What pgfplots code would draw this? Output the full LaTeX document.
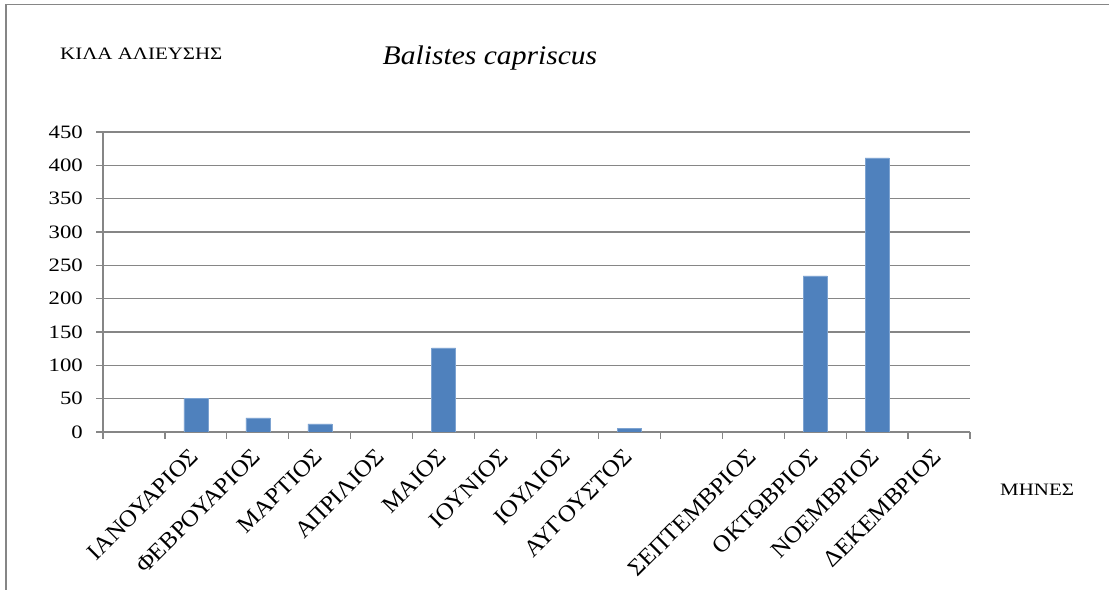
\documentclass[border=0pt]{standalone}
\usepackage{pgfplots}
\pgfplotsset{compat=1.18}
\usepackage{fontspec}
\setmainfont[FakeStretch=1.2]{Liberation Serif}
\newfontfamily\titlefont[FakeStretch=1.1]{Liberation Serif}
\newfontfamily\xlabfont[FakeStretch=1.05]{Liberation Serif}
\definecolor{barblue}{HTML}{4F81BD}
\definecolor{baredge}{HTML}{7DA3D1}
\definecolor{axgray}{HTML}{868686}
\begin{document}
\begin{tikzpicture}[x=1bp,y=1bp]
\path[use as bounding box] (0,0) rectangle (1109,590);
\draw[axgray, line width=1.2bp] (6,0) -- (6,585.5) -- (1109,585.5);
\node[anchor=west, inner sep=0pt, font=\fontsize{17.5}{21}\selectfont] at (60,536) {ΚΙΛΑ ΑΛΙΕΥΣΗΣ};
\node[inner sep=0pt, font=\titlefont\fontsize{27}{32}\selectfont\itshape] at (490,532) {Balistes capriscus};
\node[anchor=west, inner sep=0pt, font=\fontsize{17.5}{21}\selectfont] at (1000,100) {ΜΗΝΕΣ};
\begin{axis}[
  at={(103bp,158bp)}, anchor=south west,
  scale only axis, width=867bp, height=300bp,
  xmin=-0.5, xmax=13.5, ymin=0, ymax=450,
  axis x line*=bottom, axis y line*=left,
  axis line style={axgray, line width=1.2bp, -},
  ytick={0,50,...,450},
  ymajorgrids, grid style={axgray, line width=1.2bp},
  tick align=outside,
  major tick length=7bp,
  tick style={axgray, line width=1.2bp},
  xtick={-0.5,0.5,...,13.5},
  x tick label as interval,
  xticklabels={{},ΙΑΝΟΥΑΡΙΟΣ,ΦΕΒΡΟΥΑΡΙΟΣ,ΜΑΡΤΙΟΣ,ΑΠΡΙΛΙΟΣ,ΜΑΙΟΣ,ΙΟΥΝΙΟΣ,ΙΟΥΛΙΟΣ,ΑΥΓΟΥΣΤΟΣ,{},ΣΕΠΤΕΜΒΡΙΟΣ,ΟΚΤΩΒΡΙΟΣ,ΝΟΕΜΒΡΙΟΣ,ΔΕΚΕΜΒΡΙΟΣ},
  yticklabel style={font=\fontsize{19}{22}\selectfont, anchor=east, inner sep=0pt, xshift=-13bp},
  /pgf/number format/assume math mode=true,
  xticklabel style={font=\xlabfont\fontsize{23.5}{27}\selectfont, xshift=-7bp, yshift=-8bp, rotate=45, anchor=north east, inner sep=0pt},
  ybar, bar width=24bp,
]
\addplot[fill=barblue, draw=baredge, line width=0.5bp] coordinates {
  (1,50) (2,21) (3,12) (5,126) (8,5) (11,234) (12,411)
};
\end{axis}
\end{tikzpicture}
\end{document}
